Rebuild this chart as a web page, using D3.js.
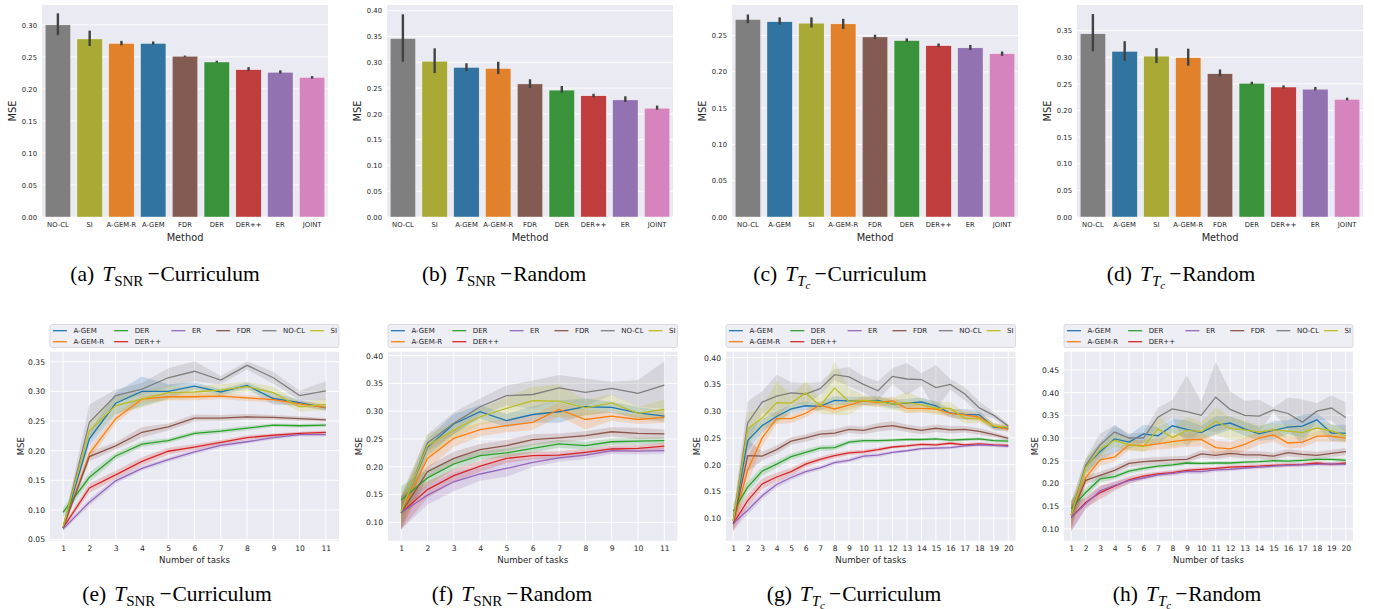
<!DOCTYPE html>
<html>
<head>
<meta charset="utf-8">
<script src="https://cdn.jsdelivr.net/npm/d3@7"></script>
<style>
body { margin: 0; background: #fff; }
svg { display: block; }
text { font-family: "DejaVu Sans", sans-serif; }
</style>
</head>
<body>
<svg id="canvas" width="1374" height="609"></svg>
<script>
// ---- bar panels (a)-(d): method order, mean MSE, error bar low / high ----
let methodsA = ["NO-CL", "SI", "A-GEM-R", "A-GEM", "FDR", "DER", "DER++", "ER", "JOINT"]
let mseA = [0.300, 0.278, 0.271, 0.271, 0.251, 0.242, 0.230, 0.226, 0.218]
let loA = [0.284, 0.267, 0.268, 0.269, 0.250, 0.241, 0.228, 0.224, 0.216]
let hiA = [0.318, 0.291, 0.275, 0.274, 0.252, 0.244, 0.234, 0.229, 0.220]

let methodsB = ["NO-CL", "SI", "A-GEM", "A-GEM-R", "FDR", "DER", "DER++", "ER", "JOINT"]
let mseB = [0.346, 0.302, 0.290, 0.288, 0.258, 0.246, 0.235, 0.227, 0.211]
let loB = [0.301, 0.279, 0.283, 0.277, 0.250, 0.241, 0.232, 0.223, 0.208]
let hiB = [0.393, 0.327, 0.298, 0.301, 0.267, 0.254, 0.239, 0.234, 0.216]

let methodsC = ["NO-CL", "A-GEM", "SI", "A-GEM-R", "FDR", "DER", "DER++", "ER", "JOINT"]
let mseC = [0.272, 0.269, 0.267, 0.266, 0.248, 0.243, 0.236, 0.233, 0.225]
let loC = [0.267, 0.265, 0.261, 0.259, 0.245, 0.241, 0.234, 0.230, 0.222]
let hiC = [0.279, 0.275, 0.275, 0.273, 0.251, 0.246, 0.239, 0.237, 0.228]

let methodsD = ["NO-CL", "A-GEM", "SI", "A-GEM-R", "FDR", "DER", "DER++", "ER", "JOINT"]
let mseD = [0.344, 0.311, 0.302, 0.299, 0.269, 0.251, 0.244, 0.240, 0.221]
let loD = [0.311, 0.293, 0.289, 0.284, 0.264, 0.249, 0.241, 0.238, 0.219]
let hiD = [0.381, 0.330, 0.317, 0.316, 0.277, 0.254, 0.247, 0.244, 0.224]

let barTicksA = [0, 0.05, 0.10, 0.15, 0.20, 0.25, 0.30]
let barTicksB = [0, 0.05, 0.10, 0.15, 0.20, 0.25, 0.30, 0.35, 0.40]
let barTicksC = [0, 0.05, 0.10, 0.15, 0.20, 0.25]
let barTicksD = [0, 0.05, 0.10, 0.15, 0.20, 0.25, 0.30, 0.35]

// ---- line panels (e)-(h): series order, tasks, means and band half widths ----
let lineMethods = ["A-GEM", "A-GEM-R", "DER", "DER++", "ER", "FDR", "NO-CL", "SI"]
let tasks11 = [1, 2, 3, 4, 5, 6, 7, 8, 9, 10, 11]
let tasks20 = [1, 2, 3, 4, 5, 6, 7, 8, 9, 10, 11, 12, 13, 14, 15, 16, 17, 18, 19, 20]

let meanE = [
    [0.070, 0.220, 0.280, 0.300, 0.300, 0.309, 0.299, 0.310, 0.288, 0.281, 0.272],
    [0.070, 0.195, 0.254, 0.287, 0.291, 0.291, 0.292, 0.289, 0.286, 0.279, 0.273],
    [0.096, 0.155, 0.191, 0.211, 0.217, 0.229, 0.233, 0.238, 0.243, 0.242, 0.243],
    [0.070, 0.137, 0.159, 0.182, 0.199, 0.206, 0.214, 0.222, 0.226, 0.229, 0.231],
    [0.068, 0.113, 0.149, 0.170, 0.185, 0.198, 0.209, 0.215, 0.222, 0.227, 0.227],
    [0.070, 0.190, 0.208, 0.231, 0.240, 0.255, 0.255, 0.257, 0.256, 0.254, 0.252],
    [0.070, 0.248, 0.293, 0.304, 0.323, 0.334, 0.319, 0.344, 0.323, 0.293, 0.301],
    [0.072, 0.234, 0.276, 0.287, 0.298, 0.299, 0.302, 0.308, 0.298, 0.274, 0.278]
]
let bandE = [
    [0.004, 0.012, 0.018, 0.025, 0.012, 0.006, 0.005, 0.005, 0.010, 0.005, 0.005],
    [0.004, 0.010, 0.008, 0.006, 0.006, 0.006, 0.005, 0.005, 0.005, 0.005, 0.005],
    [0.008, 0.008, 0.006, 0.005, 0.004, 0.004, 0.004, 0.004, 0.003, 0.003, 0.003],
    [0.004, 0.008, 0.007, 0.007, 0.006, 0.005, 0.004, 0.004, 0.003, 0.003, 0.003],
    [0.004, 0.006, 0.005, 0.004, 0.004, 0.004, 0.004, 0.003, 0.003, 0.003, 0.003],
    [0.004, 0.008, 0.006, 0.009, 0.006, 0.006, 0.005, 0.005, 0.004, 0.004, 0.003],
    [0.004, 0.030, 0.010, 0.010, 0.016, 0.017, 0.007, 0.007, 0.010, 0.008, 0.016],
    [0.006, 0.016, 0.014, 0.014, 0.012, 0.010, 0.010, 0.008, 0.010, 0.008, 0.010]
]

let meanF = [
    [0.120, 0.235, 0.277, 0.299, 0.283, 0.294, 0.299, 0.308, 0.307, 0.297, 0.291],
    [0.117, 0.215, 0.251, 0.267, 0.274, 0.280, 0.303, 0.285, 0.291, 0.285, 0.289],
    [0.140, 0.180, 0.205, 0.220, 0.225, 0.233, 0.241, 0.238, 0.245, 0.246, 0.247],
    [0.117, 0.159, 0.184, 0.201, 0.215, 0.220, 0.221, 0.226, 0.232, 0.233, 0.237],
    [0.117, 0.149, 0.173, 0.187, 0.197, 0.208, 0.216, 0.221, 0.229, 0.228, 0.229],
    [0.117, 0.191, 0.215, 0.231, 0.238, 0.249, 0.252, 0.256, 0.263, 0.260, 0.259],
    [0.117, 0.243, 0.278, 0.308, 0.328, 0.330, 0.342, 0.334, 0.341, 0.332, 0.347],
    [0.120, 0.238, 0.266, 0.290, 0.305, 0.319, 0.318, 0.306, 0.315, 0.296, 0.303]
]
let bandF = [
    [0.025, 0.015, 0.018, 0.012, 0.012, 0.015, 0.020, 0.015, 0.010, 0.010, 0.010],
    [0.030, 0.020, 0.015, 0.012, 0.012, 0.014, 0.012, 0.018, 0.008, 0.008, 0.010],
    [0.025, 0.015, 0.010, 0.008, 0.008, 0.008, 0.007, 0.007, 0.006, 0.006, 0.006],
    [0.030, 0.015, 0.012, 0.010, 0.008, 0.007, 0.007, 0.006, 0.006, 0.006, 0.006],
    [0.030, 0.017, 0.017, 0.012, 0.015, 0.008, 0.007, 0.007, 0.006, 0.006, 0.006],
    [0.030, 0.010, 0.012, 0.010, 0.010, 0.010, 0.008, 0.008, 0.008, 0.010, 0.008],
    [0.030, 0.015, 0.020, 0.015, 0.018, 0.025, 0.023, 0.025, 0.012, 0.024, 0.043],
    [0.030, 0.020, 0.015, 0.015, 0.020, 0.025, 0.030, 0.015, 0.015, 0.012, 0.018]
]

let meanG = [
    [0.095, 0.245, 0.273, 0.290, 0.304, 0.310, 0.309, 0.320, 0.319, 0.319, 0.320, 0.313, 0.315, 0.317, 0.310, 0.296, 0.294, 0.293, 0.270, 0.268],
    [0.090, 0.190, 0.250, 0.286, 0.286, 0.296, 0.311, 0.304, 0.311, 0.319, 0.316, 0.319, 0.305, 0.305, 0.304, 0.296, 0.293, 0.289, 0.272, 0.266],
    [0.113, 0.158, 0.188, 0.201, 0.215, 0.223, 0.231, 0.232, 0.242, 0.245, 0.245, 0.246, 0.247, 0.247, 0.248, 0.246, 0.247, 0.248, 0.245, 0.244],
    [0.090, 0.133, 0.164, 0.177, 0.187, 0.201, 0.210, 0.217, 0.222, 0.224, 0.228, 0.233, 0.235, 0.238, 0.237, 0.240, 0.237, 0.239, 0.237, 0.236],
    [0.090, 0.115, 0.142, 0.163, 0.176, 0.187, 0.194, 0.204, 0.208, 0.216, 0.218, 0.223, 0.226, 0.230, 0.231, 0.232, 0.235, 0.237, 0.236, 0.234],
    [0.090, 0.217, 0.216, 0.228, 0.244, 0.250, 0.257, 0.259, 0.266, 0.264, 0.270, 0.273, 0.268, 0.264, 0.268, 0.265, 0.266, 0.262, 0.256, 0.249],
    [0.095, 0.278, 0.317, 0.328, 0.334, 0.332, 0.342, 0.368, 0.364, 0.350, 0.338, 0.365, 0.360, 0.359, 0.344, 0.350, 0.332, 0.306, 0.292, 0.272],
    [0.095, 0.267, 0.287, 0.316, 0.315, 0.334, 0.310, 0.343, 0.318, 0.320, 0.318, 0.313, 0.316, 0.312, 0.305, 0.305, 0.287, 0.286, 0.272, 0.270]
]
let bandG = [
    [0.015, 0.020, 0.012, 0.010, 0.008, 0.008, 0.008, 0.008, 0.008, 0.008, 0.008, 0.008, 0.008, 0.008, 0.008, 0.008, 0.010, 0.008, 0.006, 0.005],
    [0.015, 0.025, 0.015, 0.010, 0.008, 0.008, 0.008, 0.008, 0.008, 0.008, 0.008, 0.008, 0.008, 0.008, 0.008, 0.008, 0.008, 0.008, 0.006, 0.005],
    [0.015, 0.010, 0.008, 0.007, 0.006, 0.006, 0.005, 0.005, 0.004, 0.004, 0.004, 0.003, 0.003, 0.003, 0.003, 0.003, 0.003, 0.003, 0.003, 0.003],
    [0.015, 0.012, 0.010, 0.008, 0.007, 0.006, 0.005, 0.005, 0.004, 0.004, 0.004, 0.003, 0.003, 0.003, 0.003, 0.003, 0.003, 0.003, 0.003, 0.003],
    [0.012, 0.008, 0.007, 0.006, 0.005, 0.005, 0.004, 0.004, 0.004, 0.004, 0.004, 0.003, 0.003, 0.003, 0.003, 0.003, 0.003, 0.003, 0.003, 0.003],
    [0.012, 0.030, 0.008, 0.008, 0.007, 0.007, 0.007, 0.007, 0.007, 0.007, 0.008, 0.008, 0.007, 0.007, 0.007, 0.007, 0.006, 0.006, 0.005, 0.004],
    [0.015, 0.040, 0.020, 0.040, 0.020, 0.020, 0.012, 0.010, 0.018, 0.015, 0.018, 0.015, 0.030, 0.012, 0.042, 0.010, 0.012, 0.012, 0.006, 0.004],
    [0.015, 0.030, 0.020, 0.040, 0.015, 0.022, 0.015, 0.050, 0.025, 0.010, 0.010, 0.010, 0.020, 0.012, 0.012, 0.012, 0.010, 0.008, 0.006, 0.005]
]

let meanH = [
    [0.130, 0.237, 0.270, 0.298, 0.291, 0.309, 0.305, 0.327, 0.319, 0.312, 0.328, 0.333, 0.320, 0.309, 0.317, 0.324, 0.326, 0.340, 0.311, 0.311],
    [0.130, 0.213, 0.252, 0.258, 0.285, 0.283, 0.287, 0.292, 0.296, 0.297, 0.279, 0.276, 0.286, 0.300, 0.307, 0.289, 0.291, 0.304, 0.304, 0.300],
    [0.145, 0.180, 0.210, 0.215, 0.227, 0.233, 0.238, 0.241, 0.245, 0.244, 0.245, 0.245, 0.247, 0.248, 0.250, 0.249, 0.251, 0.253, 0.253, 0.251],
    [0.125, 0.158, 0.180, 0.194, 0.208, 0.216, 0.221, 0.224, 0.229, 0.231, 0.233, 0.236, 0.237, 0.238, 0.240, 0.241, 0.242, 0.245, 0.242, 0.245],
    [0.125, 0.155, 0.184, 0.196, 0.206, 0.212, 0.219, 0.222, 0.226, 0.226, 0.230, 0.231, 0.234, 0.236, 0.238, 0.240, 0.241, 0.242, 0.243, 0.242],
    [0.130, 0.207, 0.218, 0.229, 0.244, 0.248, 0.250, 0.252, 0.253, 0.265, 0.262, 0.266, 0.263, 0.263, 0.260, 0.268, 0.264, 0.262, 0.266, 0.270],
    [0.130, 0.240, 0.285, 0.313, 0.300, 0.300, 0.346, 0.364, 0.358, 0.350, 0.390, 0.363, 0.350, 0.348, 0.362, 0.354, 0.335, 0.359, 0.366, 0.345],
    [0.130, 0.235, 0.275, 0.295, 0.285, 0.281, 0.320, 0.301, 0.317, 0.314, 0.337, 0.321, 0.318, 0.313, 0.318, 0.315, 0.312, 0.322, 0.316, 0.305]
]
let bandH = [
    [0.020, 0.015, 0.020, 0.030, 0.015, 0.020, 0.020, 0.015, 0.020, 0.015, 0.020, 0.015, 0.015, 0.015, 0.020, 0.015, 0.025, 0.015, 0.018, 0.018],
    [0.030, 0.015, 0.012, 0.010, 0.012, 0.012, 0.012, 0.015, 0.015, 0.015, 0.015, 0.015, 0.015, 0.015, 0.015, 0.012, 0.012, 0.012, 0.012, 0.010],
    [0.020, 0.010, 0.008, 0.006, 0.005, 0.005, 0.004, 0.004, 0.004, 0.004, 0.004, 0.004, 0.004, 0.004, 0.004, 0.004, 0.004, 0.004, 0.004, 0.004],
    [0.030, 0.012, 0.015, 0.010, 0.008, 0.006, 0.005, 0.005, 0.004, 0.004, 0.004, 0.004, 0.004, 0.004, 0.004, 0.004, 0.004, 0.004, 0.004, 0.004],
    [0.030, 0.012, 0.010, 0.008, 0.006, 0.005, 0.005, 0.005, 0.005, 0.005, 0.005, 0.004, 0.004, 0.004, 0.004, 0.004, 0.004, 0.004, 0.004, 0.004],
    [0.030, 0.010, 0.008, 0.008, 0.008, 0.008, 0.008, 0.008, 0.008, 0.008, 0.008, 0.008, 0.008, 0.008, 0.008, 0.008, 0.008, 0.008, 0.008, 0.008],
    [0.030, 0.015, 0.025, 0.015, 0.010, 0.012, 0.020, 0.020, 0.080, 0.030, 0.078, 0.040, 0.032, 0.036, 0.005, 0.035, 0.050, 0.018, 0.028, 0.033],
    [0.030, 0.020, 0.015, 0.015, 0.012, 0.012, 0.030, 0.020, 0.030, 0.020, 0.030, 0.025, 0.020, 0.015, 0.015, 0.015, 0.015, 0.015, 0.015, 0.015]
]

let lineTicksE = [0.05, 0.10, 0.15, 0.20, 0.25, 0.30, 0.35]
let lineTicksF = [0.10, 0.15, 0.20, 0.25, 0.30, 0.35, 0.40]
let lineTicksG = [0.10, 0.15, 0.20, 0.25, 0.30, 0.35, 0.40]
let lineTicksH = [0.10, 0.15, 0.20, 0.25, 0.30, 0.35, 0.40, 0.45]

// colours (seaborn tab10; bars use the desaturated version)
let lineColor = {
    "A-GEM": "#1f77b4", "A-GEM-R": "#ff7f0e", "DER": "#2ca02c", "DER++": "#d62728",
    "ER": "#9467bd", "FDR": "#8c564b", "NO-CL": "#7f7f7f", "SI": "#bcbd22"
}
let barColor = {
    "A-GEM": "#3274a1", "A-GEM-R": "#e1812c", "DER": "#3a923a", "DER++": "#c03d3e",
    "ER": "#9372b2", "FDR": "#845b53", "NO-CL": "#7f7f7f", "SI": "#a9aa35", "JOINT": "#d684bd"
}

let canvas = d3.select("#canvas")
let bg = "#eaeaf2"
let ink = "#262626"

let drawBars = (p) => {
    let g = canvas.append("g")
    let x = d3.scaleBand().domain(p.methods).range([p.x0, p.x1]).paddingInner(0.2).paddingOuter(0.1)
    let y = d3.scaleLinear().domain([0, p.ymax]).range([217, 5])

    g.append("rect").attr("x", p.x0).attr("y", 5).attr("width", p.x1 - p.x0).attr("height", 212).attr("fill", bg)
    g.selectAll(".grid").data(p.ticks).enter().append("line")
        .attr("x1", p.x0).attr("x2", p.x1)
        .attr("y1", (d) => y(d)).attr("y2", (d) => y(d))
        .attr("stroke", "#fff").attr("stroke-width", 0.9)

    g.selectAll(".bar").data(p.methods).enter().append("rect")
        .attr("x", (d) => x(d))
        .attr("width", x.bandwidth())
        .attr("y", (d, i) => y(p.mse[i]))
        .attr("height", (d, i) => y(0) - y(p.mse[i]))
        .attr("fill", (d) => barColor[d])
        .attr("stroke", "#fff").attr("stroke-width", 0.4)

    g.selectAll(".err").data(p.methods).enter().append("line")
        .attr("x1", (d) => x(d) + x.bandwidth() / 2)
        .attr("x2", (d) => x(d) + x.bandwidth() / 2)
        .attr("y1", (d, i) => y(p.lo[i]))
        .attr("y2", (d, i) => y(p.hi[i]))
        .attr("stroke", "#424242").attr("stroke-width", 2.4)

    let yAxis = g.append("g").attr("transform", "translate(" + p.x0 + ",0)")
        .call(d3.axisLeft(y).tickValues(p.ticks).tickSize(0).tickPadding(5).tickFormat(d3.format(".2f")))
    let xAxis = g.append("g").attr("transform", "translate(0,217)")
        .call(d3.axisBottom(x).tickSize(0).tickPadding(5))
    g.selectAll(".domain").remove()
    yAxis.selectAll("text").style("font-size", "6.8px").attr("fill", ink).style("font-family", "DejaVu Sans")
    xAxis.selectAll("text").style("font-size", "6.8px").attr("fill", ink).style("font-family", "DejaVu Sans")

    g.append("text").attr("x", (p.x0 + p.x1) / 2).attr("y", 241).attr("text-anchor", "middle")
        .style("font-size", "9.8px").attr("fill", ink).text("Method")
    g.append("text").attr("transform", "translate(" + (p.x0 - 26) + ",111) rotate(-90)")
        .attr("text-anchor", "middle").style("font-size", "9.8px").attr("fill", ink).text("MSE")
}

let drawLines = (p) => {
    let g = canvas.append("g")
    let top = 351.7, bottom = 540.7
    let n = p.tasks.length
    let x = d3.scaleLinear().domain([0.5, n + 0.5]).range([p.x0, p.x1])
    let y = d3.scaleLinear().domain([p.ymin, p.ymax]).range([bottom, top])

    g.append("rect").attr("x", p.x0).attr("y", top).attr("width", p.x1 - p.x0).attr("height", bottom - top).attr("fill", bg)
    g.selectAll(".hgrid").data(p.ticks).enter().append("line")
        .attr("x1", p.x0).attr("x2", p.x1)
        .attr("y1", (d) => y(d)).attr("y2", (d) => y(d))
        .attr("stroke", "#fff").attr("stroke-width", 0.9)
    g.selectAll(".vgrid").data(p.tasks).enter().append("line")
        .attr("x1", (d) => x(d)).attr("x2", (d) => x(d))
        .attr("y1", top).attr("y2", bottom)
        .attr("stroke", "#fff").attr("stroke-width", 0.9)

    let clipId = "clip" + p.id
    g.append("clipPath").attr("id", clipId).append("rect")
        .attr("x", p.x0).attr("y", top).attr("width", p.x1 - p.x0).attr("height", bottom - top)
    let plot = g.append("g").attr("clip-path", "url(#" + clipId + ")")

    lineMethods.forEach((m, k) => {
        let area = d3.area()
            .x((d, i) => x(p.tasks[i]))
            .y0((d, i) => y(p.mean[k][i] - p.band[k][i]))
            .y1((d, i) => y(p.mean[k][i] + p.band[k][i]))
        plot.append("path").datum(p.mean[k]).attr("d", area)
            .attr("fill", lineColor[m]).attr("fill-opacity", 0.2)
    })
    lineMethods.forEach((m, k) => {
        let line = d3.line().x((d, i) => x(p.tasks[i])).y((d) => y(d))
        plot.append("path").datum(p.mean[k]).attr("d", line)
            .attr("fill", "none").attr("stroke", lineColor[m]).attr("stroke-width", 1.3)
    })

    let yAxis = g.append("g").attr("transform", "translate(" + p.x0 + ",0)")
        .call(d3.axisLeft(y).tickValues(p.ticks).tickSize(0).tickPadding(5).tickFormat(d3.format(".2f")))
    let xAxis = g.append("g").attr("transform", "translate(0," + bottom + ")")
        .call(d3.axisBottom(x).tickValues(p.tasks).tickSize(0).tickPadding(5).tickFormat(d3.format("d")))
    g.selectAll(".domain").remove()
    yAxis.selectAll("text").style("font-size", "7.6px").attr("fill", ink).style("font-family", "DejaVu Sans")
    xAxis.selectAll("text").style("font-size", "7.6px").attr("fill", ink).style("font-family", "DejaVu Sans")

    g.append("text").attr("x", (p.x0 + p.x1) / 2).attr("y", 562.5).attr("text-anchor", "middle")
        .style("font-size", "8.6px").attr("fill", ink).text("Number of tasks")
    g.append("text").attr("transform", "translate(" + (p.x0 - 26) + "," + (top + bottom) / 2 + ") rotate(-90)")
        .attr("text-anchor", "middle").style("font-size", "8.6px").attr("fill", ink).text("MSE")

    // legend above the axes, six columns
    let lg = g.append("g")
    let w = p.x1 - p.x0
    lg.append("rect").attr("x", p.x0).attr("y", 324.5).attr("width", w).attr("height", 23)
        .attr("rx", 2).attr("fill", "#eeeef5").attr("stroke", "#d4d4d8").attr("stroke-width", 0.8)
    let colFrac = [0.01, 0.222, 0.42, 0.575, 0.735, 0.9]
    let cell = [[0, 0], [0, 1], [1, 0], [1, 1], [2, 0], [3, 0], [4, 0], [5, 0]]
    lineMethods.forEach((m, k) => {
        let lx = p.x0 + colFrac[cell[k][0]] * w
        let ly = 330.7 + cell[k][1] * 11
        lg.append("line").attr("x1", lx).attr("x2", lx + 14).attr("y1", ly).attr("y2", ly)
            .attr("stroke", lineColor[m]).attr("stroke-width", 1.3)
        lg.append("text").attr("x", lx + 20.5).attr("y", ly + 2.6)
            .style("font-size", "7px").attr("fill", ink).text(m)
    })
}

let caption = (cx, cy, letter, kind, tail) => {
    let t = canvas.append("text").attr("x", cx).attr("y", cy).attr("text-anchor", "middle")
        .style("font-family", "'Liberation Serif', 'Times New Roman', serif").style("font-size", "21.5px").attr("fill", "#000")
    t.append("tspan").text("(" + letter + ")")
    t.append("tspan").attr("dx", 8).style("font-style", "italic").text("T")
    if (kind === "SNR") {
        t.append("tspan").attr("dy", 4.5).style("font-size", "15px").text("SNR")
        t.append("tspan").attr("dy", -4.5).attr("dx", 4).text("\u2212")
    } else {
        t.append("tspan").attr("dy", 4.5).style("font-size", "15px").style("font-style", "italic").text("T")
        t.append("tspan").attr("dy", 3).style("font-size", "11px").style("font-style", "italic").text("c")
        t.append("tspan").attr("dy", -7.5).attr("dx", 4).text("\u2212")
    }
    t.append("tspan").attr("dx", 1).text(tail)
}

drawBars({ methods: methodsA, mse: mseA, lo: loA, hi: hiA, ticks: barTicksA, ymax: 0.331, x0: 42, x1: 328 })
drawBars({ methods: methodsB, mse: mseB, lo: loB, hi: hiB, ticks: barTicksB, ymax: 0.411, x0: 387, x1: 673 })
drawBars({ methods: methodsC, mse: mseC, lo: loC, hi: hiC, ticks: barTicksC, ymax: 0.292, x0: 732, x1: 1018 })
drawBars({ methods: methodsD, mse: mseD, lo: loD, hi: hiD, ticks: barTicksD, ymax: 0.398, x0: 1077, x1: 1363 })

drawLines({ id: "e", tasks: tasks11, mean: meanE, band: bandE, ticks: lineTicksE, ymin: 0.048, ymax: 0.367, x0: 50, x1: 339 })
drawLines({ id: "f", tasks: tasks11, mean: meanF, band: bandF, ticks: lineTicksF, ymin: 0.067, ymax: 0.407, x0: 388, x1: 677.5 })
drawLines({ id: "g", tasks: tasks20, mean: meanG, band: bandG, ticks: lineTicksG, ymin: 0.058, ymax: 0.411, x0: 726, x1: 1015.5 })
drawLines({ id: "h", tasks: tasks20, mean: meanH, band: bandH, ticks: lineTicksH, ymin: 0.074, ymax: 0.490, x0: 1064, x1: 1353 })

caption(165, 281, "a", "SNR", "Curriculum")
caption(504, 281, "b", "SNR", "Random")
caption(840, 281, "c", "Tc", "Curriculum")
caption(1181, 281, "d", "Tc", "Random")
caption(177, 601, "e", "SNR", "Curriculum")
caption(512, 601, "f", "SNR", "Random")
caption(854, 601, "g", "Tc", "Curriculum")
caption(1187, 601, "h", "Tc", "Random")
</script>
</body>
</html>
